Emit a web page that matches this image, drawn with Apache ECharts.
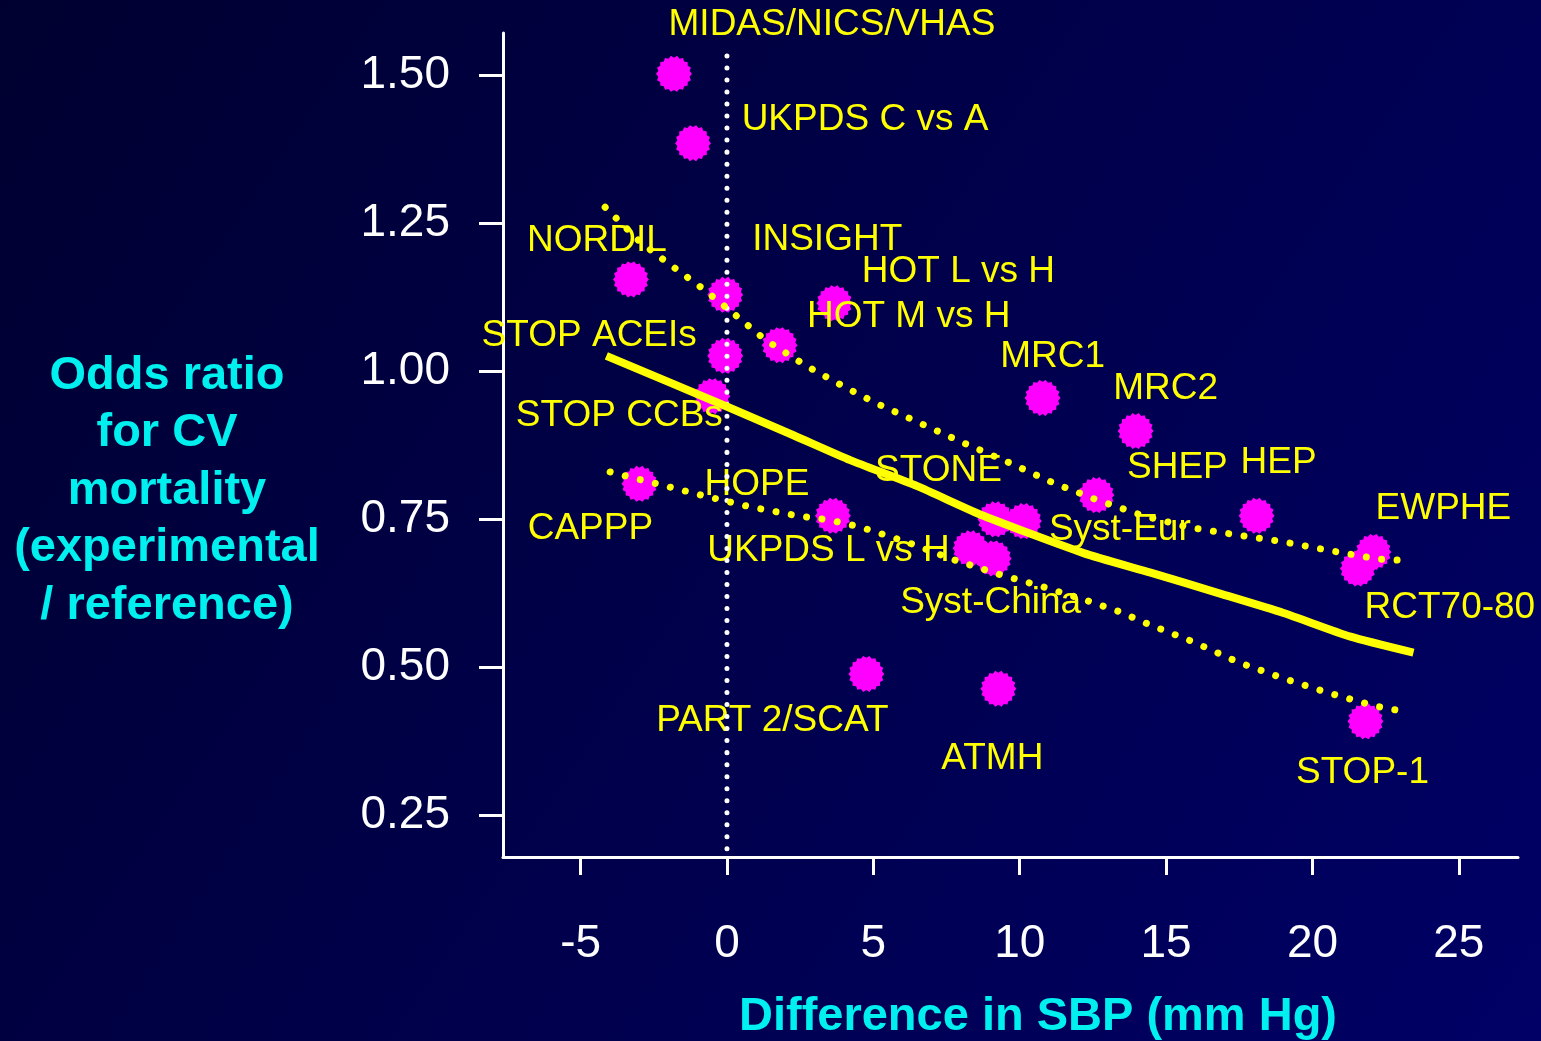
<!DOCTYPE html>
<html>
<head>
<meta charset="utf-8">
<title>Odds ratio for CV mortality vs difference in SBP</title>
<script src="https://cdn.jsdelivr.net/npm/echarts@6/dist/echarts.min.js"></script>
<style>
  html, body { margin: 0; padding: 0; background: #000033; }
  #chart { width: 1541px; height: 1041px; }
</style>
</head>
<body>
<div id="chart"></div>
<script>
// Trials: difference in systolic BP (mm Hg) and odds ratio for CV mortality
const studies = [
  'MIDAS/NICS/VHAS', 'UKPDS C vs A', 'NORDIL', 'INSIGHT', 'HOT L vs H', 'HOT M vs H',
  'STOP ACEIs', 'STOP CCBs', 'MRC1', 'MRC2', 'CAPPP', 'HOPE', 'STONE', 'Syst-Eur',
  'UKPDS L vs H', 'Syst-China', 'SHEP', 'HEP', 'EWPHE', 'RCT70-80', 'PART 2/SCAT',
  'ATMH', 'STOP-1'
];
const sbpDiff = [
  -1.81, -1.16, -3.28, -0.06, 3.67, 1.80,
  -0.06, -0.50, 10.78, 13.96, -2.99, 3.62, 9.17, 10.14,
  8.32, 9.11, 12.62, 18.09, 22.08, 21.55, 4.76,
  9.27, 21.81
];
const oddsRatio = [
  1.502, 1.385, 1.155, 1.129, 1.115, 1.044,
  1.026, 0.958, 0.955, 0.899, 0.810, 0.756, 0.750, 0.747,
  0.701, 0.684, 0.791, 0.756, 0.695, 0.667, 0.489,
  0.464, 0.409
];

// Regression curve and its confidence band
const fitX   = [-4.12, 0.01, 2.27, 4.21, 6.50, 8.76, 12.18, 14.47, 16.76, 19.01, 21.30, 23.45];
const fitY   = [1.026, 0.940, 0.892, 0.850, 0.806, 0.756, 0.693, 0.660, 0.626, 0.592, 0.552, 0.525];
const upperX = [-4.16, -2.96, -2.11, -0.81, 0.04, 1.31, 2.71, 4.15, 5.10, 8.08, 9.58, 11.08, 12.62, 14.16, 15.73, 17.37, 19.01, 20.62, 22.23, 23.32];
const upperY = [1.277, 1.218, 1.186, 1.139, 1.105, 1.053, 1.009, 0.970, 0.946, 0.879, 0.847, 0.813, 0.783, 0.757, 0.737, 0.724, 0.712, 0.697, 0.683, 0.680];
const lowerX = [-3.99, -2.39, -0.81, 0.80, 2.40, 3.50, 4.56, 6.13, 7.67, 9.24, 10.81, 12.35, 13.41, 14.44, 15.94, 17.45, 18.98, 20.55, 22.13, 23.18];
const lowerY = [0.830, 0.810, 0.790, 0.771, 0.756, 0.749, 0.737, 0.712, 0.683, 0.658, 0.636, 0.612, 0.594, 0.572, 0.543, 0.509, 0.482, 0.457, 0.435, 0.425];

// No-difference reference line at 0 mm Hg
const zeroLineY = [0.194, 1.536];

// Axis ticks
const xTicks = [-5, 0, 5, 10, 15, 20, 25];
const yTicks = [0.25, 0.50, 0.75, 1.00, 1.25, 1.50];

// Axis titles
const xTitle = 'Difference in SBP (mm Hg)';
const yTitle = 'Odds ratio\nfor CV\nmortality\n(experimental\n/ reference)';

// Where each study name sits relative to its marker (pixels)
const labelOffset = {
  'MIDAS/NICS/VHAS': [158, -49], 'UKPDS C vs A': [172, -23], 'NORDIL': [-34, -39],
  'INSIGHT': [102, -55], 'HOT L vs H': [124, -31], 'HOT M vs H': [129, -28],
  'STOP ACEIs': [-136, -20], 'STOP CCBs': [-93, 20], 'MRC1': [10, -41], 'MRC2': [30, -42],
  'CAPPP': [-49, 45], 'HOPE': [-76, -31], 'STONE': [-57, -49], 'Syst-Eur': [96, 9],
  'UKPDS L vs H': [-142, 2], 'Syst-China': [-3, 44], 'SHEP': [81, -27], 'HEP': [22, -53],
  'EWPHE': [70, -43], 'RCT70-80': [92, 39], 'PART 2/SCAT': [-94, 47], 'ATMH': [-6, 70],
  'STOP-1': [-3, 51]
};

const FONT = "'Liberation Sans', Arial, Helvetica, sans-serif";
const YELLOW = '#FFFF00';
const CYAN = '#00F0F0';

// Jagged "burst" marker outline
function burstPath(n, rOut, rIn) {
  let d = '';
  for (let i = 0; i < 2 * n; i++) {
    const a = (i * Math.PI) / n;
    const r = i % 2 === 0 ? rOut : rIn;
    const x = (50 + r * Math.cos(a)).toFixed(2);
    const y = (50 + r * Math.sin(a)).toFixed(2);
    d += (i === 0 ? 'M' : 'L') + x + ' ' + y + ' ';
  }
  return 'path://' + d + 'Z';
}

const zip = (xs, ys) => xs.map((x, i) => [x, ys[i]]);

const points = studies.map((name, i) => ({
  name: name,
  value: [sbpDiff[i], oddsRatio[i]],
  label: { offset: labelOffset[name] || [0, 0] }
}));

const chart = echarts.init(document.getElementById('chart'), null, { renderer: 'canvas' });

chart.setOption({
  animation: false,
  backgroundColor: {
    type: 'linear', x: 0, y: 0, x2: 1, y2: 1,
    colorStops: [
      { offset: 0, color: '#000030' },
      { offset: 1, color: '#000066' }
    ]
  },
  graphic: [
    {
      type: 'text',
      x: 167,
      y: 491,
      style: {
        text: yTitle,
        fill: CYAN,
        font: "bold 47px 'Liberation Sans', Arial, Helvetica, sans-serif",
        lineHeight: 57.5,
        align: 'center',
        verticalAlign: 'middle'
      }
    }
  ],
  grid: { left: 503, top: 33, right: 23, bottom: 184, outerBoundsMode: 'none' },
  xAxis: {
    type: 'value',
    min: -7.65,
    max: 27.02,
    name: xTitle,
    nameLocation: 'middle',
    nameGap: 160,
    nameTextStyle: {
      color: CYAN, fontSize: 47, fontWeight: 'bold', fontFamily: FONT,
      align: 'center', verticalAlign: 'middle', padding: [0, 0, 0, 55]
    },
    axisLine: { show: true, onZero: false, lineStyle: { color: '#FFFFFF', width: 3 } },
    axisTick: { show: true, length: 18, customValues: xTicks, lineStyle: { color: '#FFFFFF', width: 3 } },
    axisLabel: {
      customValues: xTicks, margin: 64, color: '#FFFFFF', fontSize: 46, lineHeight: 46, fontFamily: FONT,
      formatter: v => String(v)
    },
    splitLine: { show: false }
  },
  yAxis: {
    type: 'value',
    min: 0.18,
    max: 1.571,
    axisLine: { show: true, onZero: false, lineStyle: { color: '#FFFFFF', width: 3 } },
    axisTick: { show: true, length: 24, customValues: yTicks, lineStyle: { color: '#FFFFFF', width: 3 } },
    axisLabel: {
      customValues: yTicks, margin: 53, color: '#FFFFFF', fontSize: 46, fontFamily: FONT,
      formatter: v => v.toFixed(2)
    },
    splitLine: { show: false }
  },
  series: [
    {
      name: 'Trials',
      type: 'scatter',
      z: 2,
      symbol: burstPath(18, 50, 44),
      symbolSize: 36,
      itemStyle: { color: '#FF00FF', opacity: 1 },
      label: {
        show: true,
        position: 'inside',
        formatter: '{b}',
        color: YELLOW,
        fontSize: 37,
        fontFamily: FONT,
        align: 'center',
        verticalAlign: 'middle'
      },
      emphasis: { disabled: true },
      data: points
    },
    {
      name: 'Zero difference',
      type: 'line',
      z: 3,
      showSymbol: false,
      symbol: 'none',
      lineStyle: { color: '#FFFFFF', width: 5, type: [0.01, 12], cap: 'round' },
      emphasis: { disabled: true },
      data: [[0, zeroLineY[0]], [0, zeroLineY[1]]]
    },
    {
      name: 'Upper limit',
      type: 'line',
      z: 4,
      showSymbol: false,
      symbol: 'none',
      lineStyle: { color: YELLOW, width: 7, type: [0.01, 15.5], cap: 'round' },
      emphasis: { disabled: true },
      data: zip(upperX, upperY)
    },
    {
      name: 'Lower limit',
      type: 'line',
      z: 4,
      showSymbol: false,
      symbol: 'none',
      lineStyle: { color: YELLOW, width: 7, type: [0.01, 15.5], cap: 'round' },
      emphasis: { disabled: true },
      data: zip(lowerX, lowerY)
    },
    {
      name: 'Regression',
      type: 'line',
      z: 5,
      showSymbol: false,
      symbol: 'none',
      smooth: 0.2,
      lineStyle: { color: YELLOW, width: 8, cap: 'butt' },
      emphasis: { disabled: true },
      data: zip(fitX, fitY)
    }
  ]
});
</script>
</body>
</html>
